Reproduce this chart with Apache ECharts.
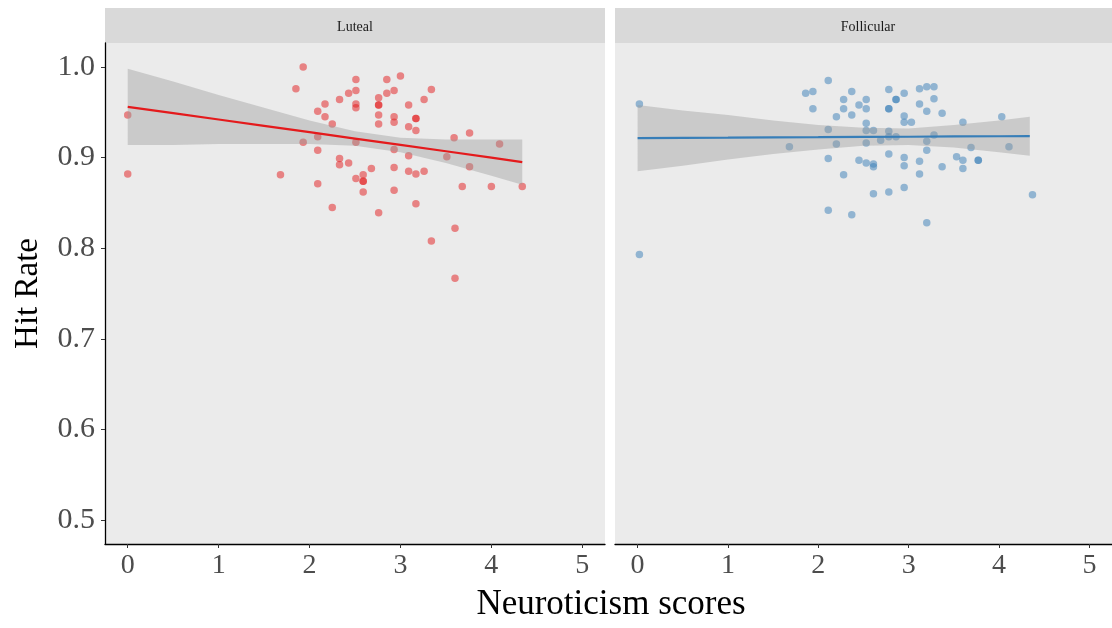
<!DOCTYPE html>
<html>
<head>
<meta charset="utf-8">
<script src="https://cdn.jsdelivr.net/npm/echarts@6/dist/echarts.min.js"></script>
<style>
html,body{margin:0;padding:0;background:#fff;}
#chart{width:1112px;height:628px;}
</style>
</head>
<body>
<div id="chart"></div>
<script>
// ---------- data ----------
const panelNames = ['Luteal', 'Follicular'];
const xTicks = [0, 1, 2, 3, 4, 5];
const yTicks = [0.5, 0.6, 0.7, 0.8, 0.9, 1.0];

const lutealX = [0, 0, 1.93, 1.85, 2.17, 2.09, 2.17, 2.25, 1.93, 2.09, 2.09, 2.33, 2.33, 2.43, 1.68, 2.09, 2.25, 2.33, 2.43, 2.51,
  2.51, 2.51, 2.51, 2.51, 2.51, 2.85, 3.0, 2.93, 2.85, 2.76, 2.76, 2.76, 3.34, 3.26, 3.09, 2.76, 2.93, 2.93, 2.76, 3.17,
  3.17, 3.09, 3.17, 3.59, 3.76, 4.09, 2.93, 3.09, 3.51, 3.76, 2.68, 2.93, 3.09, 3.17, 3.26, 2.59, 2.59, 2.59, 2.59, 2.93,
  3.68, 4.0, 4.34, 3.17, 2.76, 3.34, 3.6, 3.6];
const lutealY = [0.947, 0.882, 1.0, 0.976, 0.959, 0.951, 0.945, 0.937, 0.917, 0.923, 0.908, 0.899, 0.892, 0.894, 0.881, 0.871, 0.845, 0.964, 0.971, 0.986,
  0.974, 0.959, 0.955, 0.917, 0.877, 0.986, 0.990, 0.974, 0.971, 0.966, 0.958, 0.958, 0.975, 0.964, 0.958, 0.947, 0.945, 0.939, 0.937, 0.943,
  0.943, 0.934, 0.930, 0.922, 0.927, 0.915, 0.909, 0.902, 0.901, 0.890, 0.888, 0.889, 0.885, 0.882, 0.885, 0.881, 0.874, 0.874, 0.862, 0.864,
  0.868, 0.868, 0.868, 0.849, 0.839, 0.808, 0.822, 0.767];

const follicularX = [0.02, 0.02, 2.11, 1.86, 1.94, 1.94, 2.37, 2.28, 2.28, 2.45, 2.37, 2.20, 2.53, 2.53, 2.11, 2.53, 2.20, 1.68, 2.11, 2.45,
  2.53, 2.28, 2.11, 2.37, 2.53, 2.78, 2.95, 2.86, 2.86, 2.78, 2.78, 3.12, 3.20, 3.28, 3.12, 3.28, 3.20, 3.37, 2.95, 2.95,
  3.03, 2.53, 2.61, 2.78, 2.78, 2.86, 2.69, 3.20, 3.20, 3.28, 3.60, 4.03, 3.69, 4.11, 2.78, 2.95, 2.95, 3.12, 2.61, 2.61,
  3.12, 3.37, 3.53, 3.60, 3.60, 3.77, 3.77, 2.95, 2.61, 2.78, 4.37, 3.20];
const follicularY = [0.959, 0.793, 0.985, 0.971, 0.973, 0.954, 0.973, 0.964, 0.954, 0.958, 0.947, 0.945, 0.964, 0.954, 0.931, 0.938, 0.915, 0.912, 0.899, 0.897,
  0.894, 0.881, 0.842, 0.837, 0.916, 0.975, 0.971, 0.964, 0.964, 0.954, 0.954, 0.976, 0.978, 0.978, 0.959, 0.965, 0.951, 0.949, 0.946, 0.939,
  0.939, 0.930, 0.930, 0.929, 0.923, 0.923, 0.919, 0.918, 0.908, 0.925, 0.939, 0.945, 0.911, 0.912, 0.904, 0.900, 0.891, 0.896, 0.893, 0.890,
  0.882, 0.890, 0.901, 0.897, 0.888, 0.897, 0.897, 0.867, 0.860, 0.862, 0.859, 0.828];

// regression fit and confidence band
const bandX = [0, 0.5, 1, 1.5, 2, 2.5, 3, 3.5, 4, 4.34];
const lutealFit   = [0.956, 0.949, 0.942, 0.935, 0.928, 0.921, 0.914, 0.907, 0.900, 0.895];
const lutealUpper = [0.998, 0.984, 0.969, 0.955, 0.941, 0.929, 0.922, 0.920, 0.920, 0.920];
const lutealLower = [0.914, 0.914, 0.915, 0.915, 0.915, 0.913, 0.906, 0.894, 0.880, 0.870];
const follicularFit   = [0.9215, 0.9218, 0.922, 0.9223, 0.9225, 0.9228, 0.923, 0.9233, 0.9235, 0.9237];
const follicularUpper = [0.958, 0.952, 0.947, 0.941, 0.936, 0.933, 0.932, 0.936, 0.941, 0.945];
const follicularLower = [0.885, 0.891, 0.898, 0.904, 0.909, 0.913, 0.914, 0.911, 0.906, 0.902];

// ---------- styling ----------
const SERIF = '"Liberation Serif", "DejaVu Serif", serif';
const colors = ['#E41A1C', '#377EB8'];
const X_MIN = -0.25, X_MAX = 5.25, Y_MIN = 0.4737, Y_MAX = 1.0264;

const grids = [
  {left: 105, top: 43, width: 500, height: 501},
  {left: 615, top: 43, width: 500, height: 501}
];

function zip(xs, ys) { return xs.map((x, i) => [x, ys[i]]); }

function bandSeries(idx, upper, lower) {
  return {
    type: 'custom',
    xAxisIndex: idx, yAxisIndex: idx,
    clip: true, z: 3, silent: true,
    data: bandX.map((x, i) => [x, upper[i], lower[i]]),
    encode: {x: 0, y: [1, 2]},
    renderItem: function (params, api) {
      if (params.dataIndex !== 0) return;
      const pts = [];
      for (let i = 0; i < bandX.length; i++) pts.push(api.coord([bandX[i], upper[i]]));
      for (let i = bandX.length - 1; i >= 0; i--) pts.push(api.coord([bandX[i], lower[i]]));
      return {type: 'polygon', shape: {points: pts}, style: {fill: 'rgba(153,153,153,0.4)'}};
    }
  };
}

const xAxes = [0, 1].map(i => ({
  type: 'value', gridIndex: i, min: X_MIN, max: X_MAX,
  axisLine: {show: true, onZero: false, lineStyle: {color: '#000', width: 1.3}},
  axisTick: {show: true, customValues: xTicks, length: 4, lineStyle: {color: '#333'}},
  axisLabel: {customValues: xTicks, fontFamily: SERIF, fontSize: 28, color: '#4D4D4D', margin: 8},
  splitLine: {show: false}
}));

const yAxes = [0, 1].map(i => ({
  type: 'value', gridIndex: i, min: Y_MIN, max: Y_MAX,
  show: i === 0,
  axisLine: {show: true, onZero: false, lineStyle: {color: '#000', width: 1.3}},
  axisTick: {show: true, customValues: yTicks, length: 4, lineStyle: {color: '#333'}},
  axisLabel: {customValues: yTicks, fontFamily: SERIF, fontSize: 30, color: '#4D4D4D', margin: 10,
    formatter: v => v.toFixed(1)},
  splitLine: {show: false},
  name: i === 0 ? 'Hit Rate' : '',
  nameLocation: 'middle', nameGap: 60,
  nameTextStyle: {fontFamily: SERIF, fontSize: 33, color: '#000'}
}));

const chart = echarts.init(document.getElementById('chart'), null, {renderer: 'canvas'});
chart.setOption({
  backgroundColor: '#FFFFFF',
  animation: false,
  grid: grids.map(g => Object.assign({show: true, backgroundColor: '#EBEBEB', borderWidth: 0}, g)),
  xAxis: xAxes,
  yAxis: yAxes,
  graphic: [
    {type: 'rect', shape: {x: 105, y: 8, width: 500, height: 35}, style: {fill: '#D9D9D9'}},
    {type: 'rect', shape: {x: 615, y: 8, width: 500, height: 35}, style: {fill: '#D9D9D9'}},
    {type: 'text', x: 355, y: 27, style: {text: panelNames[0], font: '14px ' + SERIF, fill: '#1A1A1A', textAlign: 'center', textVerticalAlign: 'middle'}},
    {type: 'text', x: 868, y: 27, style: {text: panelNames[1], font: '14px ' + SERIF, fill: '#1A1A1A', textAlign: 'center', textVerticalAlign: 'middle'}},
    {type: 'text', x: 611, y: 605, style: {text: 'Neuroticism scores', font: '35px ' + SERIF, fill: '#000', textAlign: 'center', textVerticalAlign: 'middle'}}
  ],
  series: [
    {type: 'scatter', xAxisIndex: 0, yAxisIndex: 0, z: 2, symbolSize: 7.5,
      itemStyle: {color: colors[0], opacity: 0.5}, data: zip(lutealX, lutealY)},
    bandSeries(0, lutealUpper, lutealLower),
    {type: 'line', xAxisIndex: 0, yAxisIndex: 0, z: 4, symbol: 'none',
      lineStyle: {color: colors[0], width: 2.2}, data: zip(bandX, lutealFit)},
    {type: 'scatter', xAxisIndex: 1, yAxisIndex: 1, z: 2, symbolSize: 7.5,
      itemStyle: {color: colors[1], opacity: 0.5}, data: zip(follicularX, follicularY)},
    bandSeries(1, follicularUpper, follicularLower),
    {type: 'line', xAxisIndex: 1, yAxisIndex: 1, z: 4, symbol: 'none',
      lineStyle: {color: colors[1], width: 2.2}, data: zip(bandX, follicularFit)}
  ]
});
</script>
</body>
</html>
